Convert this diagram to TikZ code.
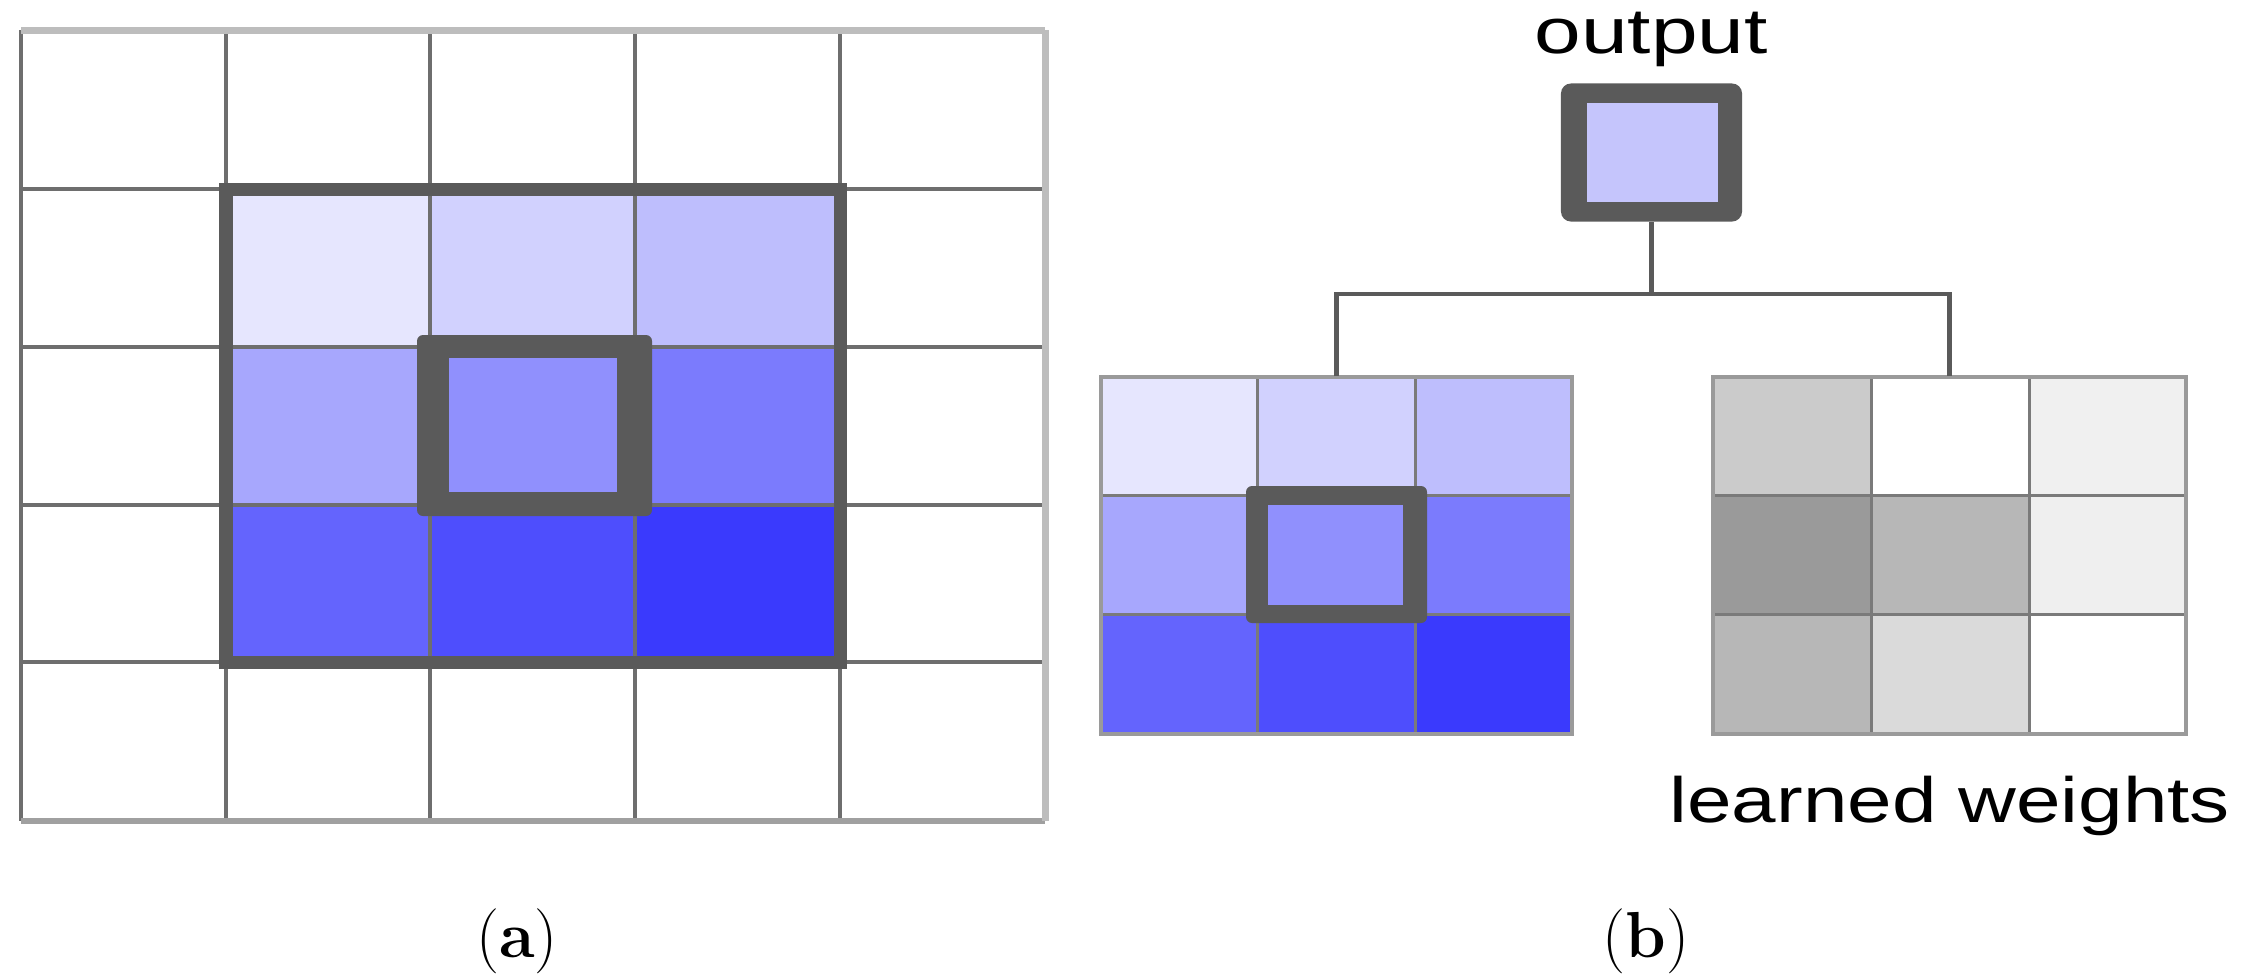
\documentclass[tikz,border=0pt]{standalone}
\usepackage{fontspec}
\newfontfamily\labelsans{Liberation Sans}
\definecolor{bA}{HTML}{E6E6FE}
\definecolor{bB}{HTML}{D1D1FE}
\definecolor{bC}{HTML}{BEBEFD}
\definecolor{bD}{HTML}{A7A7FD}
\definecolor{bE}{HTML}{9090FD}
\definecolor{bF}{HTML}{7B7BFD}
\definecolor{bG}{HTML}{6464FD}
\definecolor{bH}{HTML}{4E4EFD}
\definecolor{bI}{HTML}{3A3AFD}
\definecolor{outfill}{HTML}{C5C5FC}
\definecolor{hlgray}{HTML}{5A5A5A}
\definecolor{gridgray}{HTML}{6E6E6E}
\definecolor{lightgray}{HTML}{BDBDBD}
\definecolor{midgray}{HTML}{A0A0A0}
\definecolor{smallgrid}{HTML}{7A7A7A}
\definecolor{smallborder}{HTML}{9A9A9A}
\definecolor{wA}{HTML}{CBCBCB}
\definecolor{wB}{HTML}{FFFFFF}
\definecolor{wC}{HTML}{F0F0F0}
\definecolor{wD}{HTML}{9A9A9A}
\definecolor{wE}{HTML}{B7B7B7}
\definecolor{wF}{HTML}{EFEFEF}
\definecolor{wG}{HTML}{B7B7B7}
\definecolor{wH}{HTML}{DADADA}
\definecolor{wI}{HTML}{FFFFFF}
\tikzset{
  gline/.style={draw=gridgray, line width=0.04cm},
  lightb/.style={draw=lightgray, line width=0.07cm},
  midb/.style={draw=midgray, line width=0.06cm},
  thickframe/.style={draw=hlgray, line width=0.13cm},
  hl/.style={fill=hlgray, rounded corners=0.06cm},
  sgline/.style={draw=smallgrid, line width=0.03cm},
  sgborder/.style={draw=smallborder, line width=0.04cm},
  conn/.style={draw=hlgray, line width=0.045cm},
  gridbox/.style={inner sep=0pt, minimum width=4.71cm, minimum height=3.57cm},
  sanslabel/.style={inner sep=0pt, font=\labelsans\fontsize{18.2pt}{22pt}\selectfont},
  sublabel/.style={inner sep=0pt, font=\fontsize{18.5pt}{22pt}\selectfont},
}
\begin{document}
\begin{tikzpicture}[x=0.01cm, y=-0.01cm]
\useasboundingbox (0,0) rectangle (2243,975);

% ---------- (a) large grid ----------
\fill[bA] (226,189) rectangle (430,347);
\fill[bB] (430,189) rectangle (635,347);
\fill[bC] (635,189) rectangle (840,347);
\fill[bD] (226,347) rectangle (430,505);
\fill[bE] (430,347) rectangle (635,505);
\fill[bF] (635,347) rectangle (840,505);
\fill[bG] (226,505) rectangle (430,662);
\fill[bH] (430,505) rectangle (635,662);
\fill[bI] (635,505) rectangle (840,662);
\foreach \x in {226,430,635,840} \draw[gline] (\x,30) -- (\x,821);
\foreach \y in {189,347,505,662} \draw[gline] (21,\y) -- (1045,\y);
\draw[gline] (21,30) -- (21,821);
\draw[midb] (21,821) -- (1045,821);
\draw[lightb] (21,30) -- (1045,30);
\draw[lightb] (1045,30) -- (1045,821);
\draw[thickframe] (226,189) rectangle (840,662);
\fill[hl] (417,335) rectangle (652,516);
\fill[bE] (449,358) rectangle (617,492);

% ---------- (b) input patch ----------
\fill[bA] (1101,377) rectangle (1257,495);
\fill[bB] (1257,377) rectangle (1415,495);
\fill[bC] (1415,377) rectangle (1572,495);
\fill[bD] (1101,495) rectangle (1257,614);
\fill[bE] (1257,495) rectangle (1415,614);
\fill[bF] (1415,495) rectangle (1572,614);
\fill[bG] (1101,614) rectangle (1257,734);
\fill[bH] (1257,614) rectangle (1415,734);
\fill[bI] (1415,614) rectangle (1572,734);
\foreach \x in {1257,1415} \draw[sgline] (\x,377) -- (\x,734);
\foreach \y in {495,614} \draw[sgline] (1101,\y) -- (1572,\y);
\draw[sgborder] (1101,377) rectangle (1572,734);
\fill[hl] (1246,486) rectangle (1427,623);
\fill[bE] (1268,505) rectangle (1403,605);

% ---------- (b) learned weights ----------
\fill[wA] (1713,377) rectangle (1871,495);
\fill[wB] (1871,377) rectangle (2029,495);
\fill[wC] (2029,377) rectangle (2186,495);
\fill[wD] (1713,495) rectangle (1871,614);
\fill[wE] (1871,495) rectangle (2029,614);
\fill[wF] (2029,495) rectangle (2186,614);
\fill[wG] (1713,614) rectangle (1871,734);
\fill[wH] (1871,614) rectangle (2029,734);
\fill[wI] (2029,614) rectangle (2186,734);
\foreach \x in {1871,2029} \draw[sgline] (\x,377) -- (\x,734);
\foreach \y in {495,614} \draw[sgline] (1713,\y) -- (2186,\y);
\draw[sgborder] (1713,377) rectangle (2186,734);

% ---------- named nodes and connectors ----------
\node[gridbox] (field) at (1336.5,555.5) {};
\node[gridbox] (wts) at (1949.5,555.5) {};
\node[inner sep=0pt, fill=hlgray, rounded corners=0.1cm,
      minimum width=1.81cm, minimum height=1.38cm] (out) at (1651.5,152.5) {};
\fill[outfill] (1587,103) rectangle (1718,202);
\coordinate (split) at (1651.5,294);
\draw[conn] (out.south) -- (split);
\draw[conn] (field.north) |- (split) -| (wts.north);

\node[sanslabel, anchor=base] (outlbl) at (1651,53) {\scalebox{1.31}[1]{output}};
\node[sanslabel, anchor=base west] (wlbl) at (1669,822) {\scalebox{1.25}[1]{learned weights}};

\node[sublabel, anchor=base] (la) at (517,957) {(\textbf{a})};
\node[sublabel, anchor=base] (lb) at (1646,957) {(\textbf{b})};
\end{tikzpicture}
\end{document}
